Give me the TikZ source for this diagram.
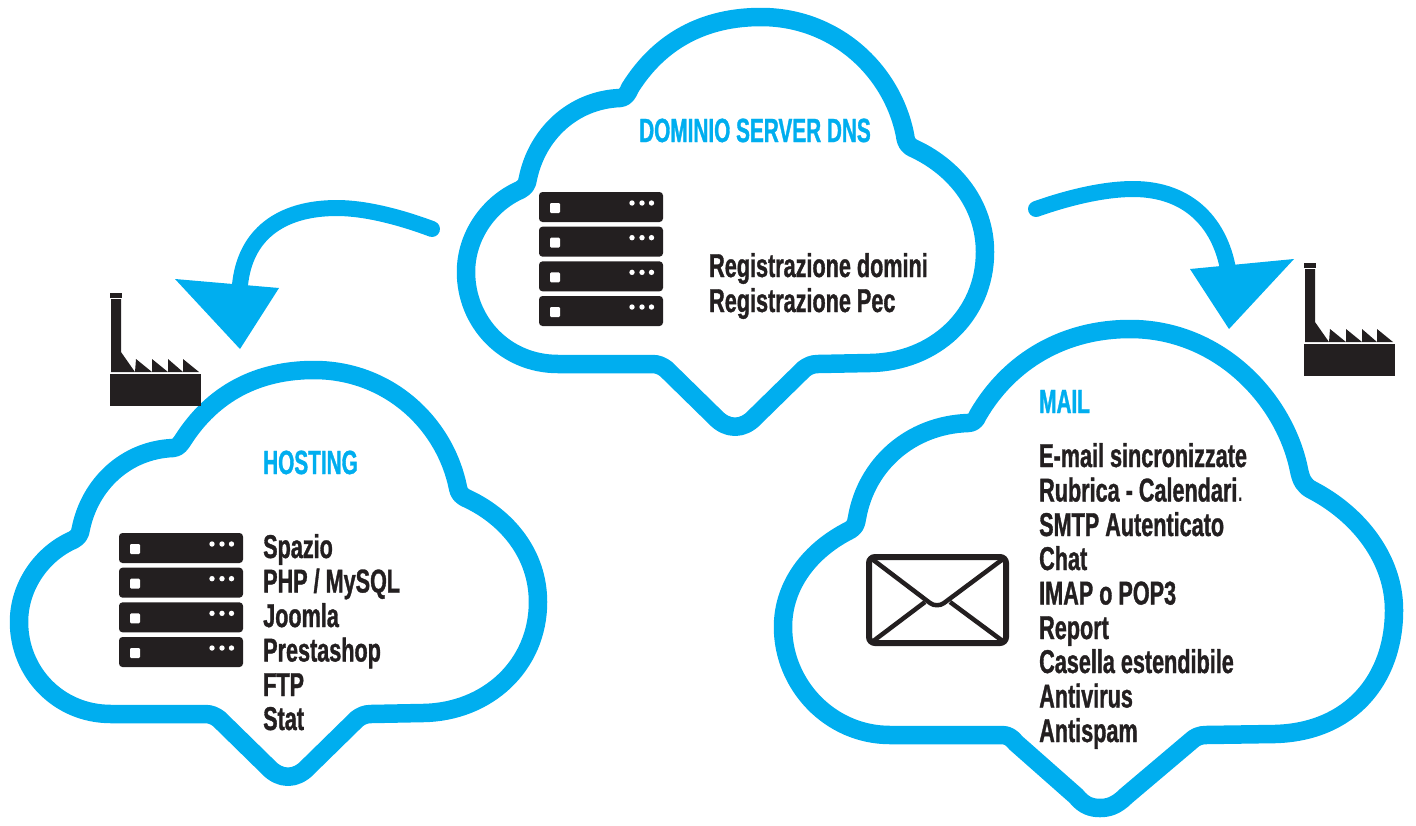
\documentclass[tikz,border=0pt]{standalone}
\usepackage{fontspec}
\newfontfamily\itemfont{Liberation Sans}[FakeStretch=0.655,BoldFeatures={FakeBold=1}]
\newfontfamily\headfont{Liberation Sans}[FakeStretch=0.62,BoldFeatures={FakeBold=1}]
\definecolor{cloudblue}{HTML}{00AEEF}
\definecolor{ink}{HTML}{231F20}
\tikzset{
  cloudline/.style={draw=cloudblue,line width=18.5pt,line join=round},
  flowline/.style={draw=cloudblue,line width=16pt,line cap=round},
  flowhead/.style={fill=cloudblue,draw=none},
  heading/.style={anchor=base west,inner sep=0pt,text=cloudblue,font=\headfont\fontsize{33.5}{34}\selectfont\bfseries},
  item/.style={anchor=base west,inner sep=0pt,text=ink,font=\itemfont\fontsize{33}{34}\selectfont\bfseries},
  rack/.style={fill=ink,draw=none,rounded corners=3.5pt},
  led/.style={fill=white,draw=none,rounded corners=1.2pt},
}
\newcommand{\serverrack}[2]{%
  \begin{scope}[shift={(#1,#2)}]
    \foreach \k in {0,1,2,3}{
      \begin{scope}[yshift=-34.67pt*\k]
        \fill[rack] (0,0) rectangle (124,30);
        \fill[led] (11,11) rectangle (21,21);
        \foreach \d in {93,103,112.5}{\fill[white] (\d,11) circle (2.7pt);}
      \end{scope}
    }
  \end{scope}}
\newcommand{\factory}[2]{%
  \begin{scope}[shift={(#1,#2)}]
    \fill[ink] (110,293) rectangle (122,298);
    \fill[ink] (111,299) -- (121,299) -- (121,352) -- (135,372) -- (136,359) -- (152,372) -- (152,359) -- (168,372) -- (168,359) -- (183,372) -- (183,359) -- (199,372) -- (111,372) -- cycle;
    \fill[ink] (110,374) rectangle (201,406);
  \end{scope}}
\begin{document}
\begin{tikzpicture}[x=1pt,y=-1pt]
\useasboundingbox (0,0) rectangle (1416,825);
% top cloud
\draw[cloudline] (630,88) .. controls (660,40) and (705,17) .. (761,17)
  .. controls (835,17) and (892,70) .. (905,135)
  .. controls (906,143) and (908,146) .. (915,149)
  .. controls (955,168) and (985,205) .. (985,252)
  .. controls (985,315) and (935,362) .. (870,363)
  -- (818,364) .. controls (812,364) and (808,366) .. (804,369)
  -- (755,417) .. controls (743,430) and (727,430) .. (715,417)
  -- (666,369) .. controls (662,366) and (658,364) .. (652,364)
  -- (558,364) .. controls (505,364) and (466,322) .. (466,272)
  .. controls (466,235) and (490,203) .. (520,190)
  .. controls (525,187) and (527,185) .. (528,178)
  .. controls (537,135) and (572,100) .. (620,98)
  .. controls (625,98) and (628,93) .. cycle;
% hosting cloud
\draw[cloudline] (183,440) .. controls (213,393) and (258,370) .. (314,370)
  .. controls (388,370) and (445,423) .. (458,488)
  .. controls (459,493) and (461,496) .. (468,499)
  .. controls (508,518) and (538,555) .. (538,602)
  .. controls (538,665) and (488,712) .. (423,713)
  -- (371,714) .. controls (365,714) and (361,716) .. (357,719)
  -- (308,767) .. controls (296,780) and (280,780) .. (268,767)
  -- (219,719) .. controls (215,716) and (211,714) .. (205,714)
  -- (111,714) .. controls (58,714) and (19,672) .. (19,622)
  .. controls (19,585) and (43,553) .. (73,540)
  .. controls (78,537) and (80,535) .. (81,528)
  .. controls (90,485) and (125,450) .. (173,448)
  .. controls (178,448) and (181,443) .. cycle;
% mail cloud
\draw[cloudline] (978,415) .. controls (1010,360) and (1065,329) .. (1130,329)
  .. controls (1220,329) and (1285,400) .. (1299,470)
  .. controls (1301,480) and (1304,486) .. (1312,490)
  .. controls (1360,515) and (1394,560) .. (1394,610)
  .. controls (1394,680) and (1350,732) .. (1275,734)
  -- (1206,735) .. controls (1200,735) and (1195,737) .. (1191,741)
  -- (1126,796) .. controls (1116,806) and (1108,808) .. (1100,808)
  .. controls (1092,808) and (1084,806) .. (1076,796)
  -- (1016,743) .. controls (1012,738) and (1008,735) .. (1002,735)
  -- (890,735) .. controls (830,735) and (783,685) .. (783,627)
  .. controls (783,585) and (810,550) .. (850,530)
  .. controls (855,527) and (856,524) .. (857,518)
  .. controls (866,465) and (910,425) .. (968,423)
  .. controls (973,423) and (976,420) .. cycle;
% arrows
\coordinate (la) at (432,229);
\coordinate (lb) at (240,285);
\draw[flowline] (la) .. controls (400,217) and (365,208) .. (337,208)
  .. controls (280,208) and (245,235) .. (lb);
\fill[flowhead] (175,279) -- (279,288) -- (240,349) -- cycle;
\coordinate (ra) at (1036,209);
\coordinate (rb) at (1229,275);
\draw[flowline] (ra) .. controls (1070,197) and (1105,189) .. (1133,189)
  .. controls (1190,189) and (1222,225) .. (rb);
\fill[flowhead] (1190,269) -- (1294,259) -- (1229,329) -- cycle;
% factories
\factory{0}{0}
\factory{1194}{-30}
% servers
\serverrack{539}{192}
\serverrack{119}{533}
% envelope
\draw[ink,line width=6pt,rounded corners=6pt] (869,557) rectangle (1006,643);
\draw[ink,line width=4.5pt,line join=round] (872,559) -- (930,603) .. controls (934,606) and (940,606) .. (944,603) -- (1003,559);
\draw[ink,line width=4.5pt] (872,642) -- (925,602);
\draw[ink,line width=4.5pt] (950,602) -- (1004,642);
% text
\node[heading] (t1) at (639,142) {DOMINIO SERVER DNS};
\node[item] (t1a) at (709,277) {Registrazione domini};
\node[item] (t1b) at (709,312) {Registrazione Pec};
\node[heading] (t2) at (263,474) {HOSTING};
\node[item] (t2a) at (263,558) {Spazio};
\node[item] (t2b) at (263,592.5) {PHP / MySQL};
\node[item] (t2c) at (263,627) {Joomla};
\node[item] (t2d) at (263,661.5) {Prestashop};
\node[item] (t2e) at (263,696) {FTP};
\node[item] (t2f) at (263,730) {Stat};
\node[heading] (t3) at (1039,413) {MAIL};
\node[item] (t3a) at (1039,467) {E-mail sincronizzate};
\node[item] (t3b) at (1039,501.5) {Rubrica - Calendari{\mdseries .}};
\node[item] (t3c) at (1039,536) {SMTP Autenticato};
\node[item] (t3d) at (1039,570) {Chat};
\node[item] (t3e) at (1039,604.5) {IMAP o POP3};
\node[item] (t3f) at (1039,639) {Report};
\node[item] (t3g) at (1039,673) {Casella estendibile};
\node[item] (t3h) at (1039,707.5) {Antivirus};
\node[item] (t3i) at (1039,742) {Antispam};
\end{tikzpicture}
\end{document}
